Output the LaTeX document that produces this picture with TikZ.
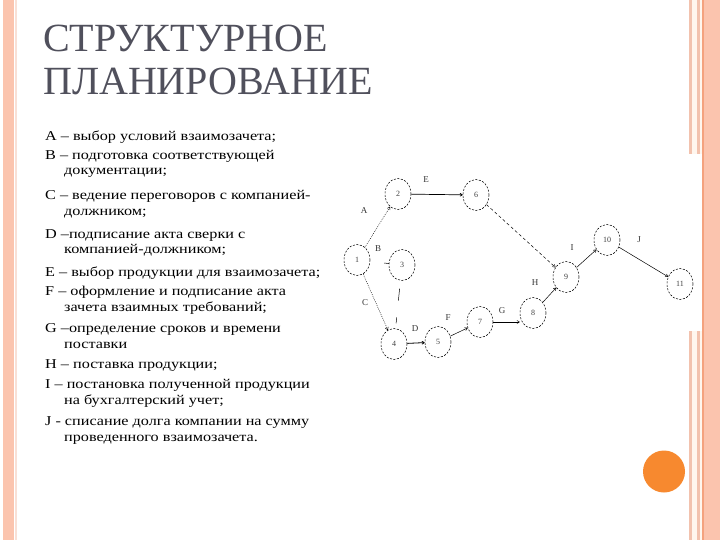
\documentclass[tikz,border=0pt]{standalone}
\usepackage{fontspec}
\setmainfont{Liberation Serif}
\newfontfamily\bodyfont[FakeStretch=1.2]{Liberation Serif}
\usetikzlibrary{shapes.geometric,arrows.meta}
\definecolor{peach}{HTML}{FBC4AE}
\definecolor{peachline}{HTML}{F2C2AE}
\definecolor{cream}{HTML}{FFF6EE}
\definecolor{orangeline}{HTML}{F4A27E}
\definecolor{dotorange}{HTML}{F7892F}
\definecolor{titlegray}{HTML}{50505C}
\begin{document}
\begin{tikzpicture}[x=1pt,y=-1pt,
  ev/.style={ellipse, draw, dash pattern=on 2pt off 1.5pt, line width=0.55pt,
    minimum width=26pt, minimum height=31pt, inner sep=0pt,
    font=\fontsize{8}{8}\selectfont, text=black!75},
  lbl/.style={font=\fontsize{9}{9}\selectfont, inner sep=0pt, text=black!80},
  txt/.style={anchor=base west, inner sep=0pt, font=\bodyfont\fontsize{13.5}{16}\selectfont},
  ttl/.style={anchor=base west, inner sep=0pt, font=\fontsize{40}{41}\selectfont, text=titlegray},
  arr/.style={-{To[length=3pt,width=3.5pt]}, line width=0.5pt},
  dots/.style={dash pattern=on 0.8pt off 1.2pt},
  dash9/.style={dash pattern=on 3pt off 2.5pt}]
\useasboundingbox (0,0) rectangle (720,540);
\fill[white] (0,0) rectangle (720,540);
% left decoration
\fill[peach] (3,0) rectangle (14,540);
\fill[peachline!50] (15,0) rectangle (16.5,540);
% right decoration
\fill[cream] (689,0) rectangle (702,154);
\fill[peachline] (689,0) rectangle (692,154);
\fill[peachline] (697,0) rectangle (700,154);
\fill[cream] (689,331) rectangle (702,540);
\fill[peachline] (689,331) rectangle (692,540);
\fill[peachline] (697,331) rectangle (700,540);
\fill[peach] (702,0) rectangle (720,540);
\fill[orangeline] (702,0) rectangle (704,540);
\fill[dotorange] (664,471.5) circle (21);
% title
\node[ttl] (title1) at (43,52) {СТРУКТУРНОЕ};
\node[ttl] (title2) at (43,95) {ПЛАНИРОВАНИЕ};
% body text
\node[txt] (t1) at (45,141) {A – выбор условий взаимозачета;};
\node[txt] (t2) at (45,160) {B – подготовка соответствующей};
\node[txt] (t3) at (64,175) {документации;};
\node[txt] (t4) at (45,200) {C – ведение переговоров с компанией-};
\node[txt] (t5) at (64,215) {должником;};
\node[txt] (t6) at (45,238) {D –подписание акта сверки с};
\node[txt] (t7) at (64,254) {компанией-должником;};
\node[txt] (t8) at (45,276) {E – выбор продукции для взаимозачета;};
\node[txt] (t9) at (45,295) {F – оформление и подписание акта};
\node[txt] (t10) at (64,311) {зачета взаимных требований;};
\node[txt] (t11) at (45,332) {G –определение сроков и времени};
\node[txt] (t12) at (64,348) {поставки};
\node[txt] (t13) at (45,368) {H – поставка продукции;};
\node[txt] (t14) at (45,388) {I – постановка полученной продукции};
\node[txt] (t15) at (64,404) {на бухгалтерский учет;};
\node[txt] (t16) at (45,425) {J - списание долга компании на сумму};
\node[txt] (t17) at (64,441) {проведенного взаимозачета.};
% network
\node[ev] (n1) at (357,260) {1};
\node[ev] (n2) at (398,194) {2};
\node[ev] (n3) at (402,265) {3};
\node[ev] (n4) at (394,344) {4};
\node[ev] (n5) at (438,342) {5};
\node[ev] (n6) at (476,195) {6};
\node[ev] (n7) at (480,322) {7};
\node[ev] (n8) at (533,313) {8};
\node[ev] (n9) at (566,277) {9};
\node[ev] (n10) at (607,240) {10};
\node[ev] (n11) at (680,284) {11};
\draw[arr,dots] (n1) -- (n2);
\draw[arr,line width=0.7pt] (n2) -- (n6);
\draw[arr,dash9] (n6) -- (n9);
\draw[line width=0.5pt,shorten <=14pt] (n1) -- (n3);
\draw[line width=0.5pt,dash pattern=on 0pt off 8pt on 12pt off 17pt on 6pt off 30pt] (n3) -- (n4);
\draw[arr,dots] (n1) -- (n4);
\draw[arr,line width=0.8pt] (n4) -- (n5);
\draw[arr] (n5) -- (n7);
\draw[arr] (n7.east) -- (n7.east -| n8.west);
\draw[arr] (n8) -- (n9);
\draw[arr] (n9) -- (n10);
\draw[arr] (n10) -- (n11);
\node[lbl] (la) at (364,211) {A};
\node[lbl] (lb) at (378,249) {B};
\node[lbl] (lc) at (365,303) {C};
\node[lbl] (ld) at (415,329) {D};
\node[lbl] (le) at (426,180) {E};
\node[lbl] (lf) at (448,318) {F};
\node[lbl] (lg) at (502,311) {G};
\node[lbl] (lh) at (535,283) {H};
\node[lbl] (li) at (572,248) {I};
\node[lbl] (lj) at (639,240) {J};
\end{tikzpicture}
\end{document}
